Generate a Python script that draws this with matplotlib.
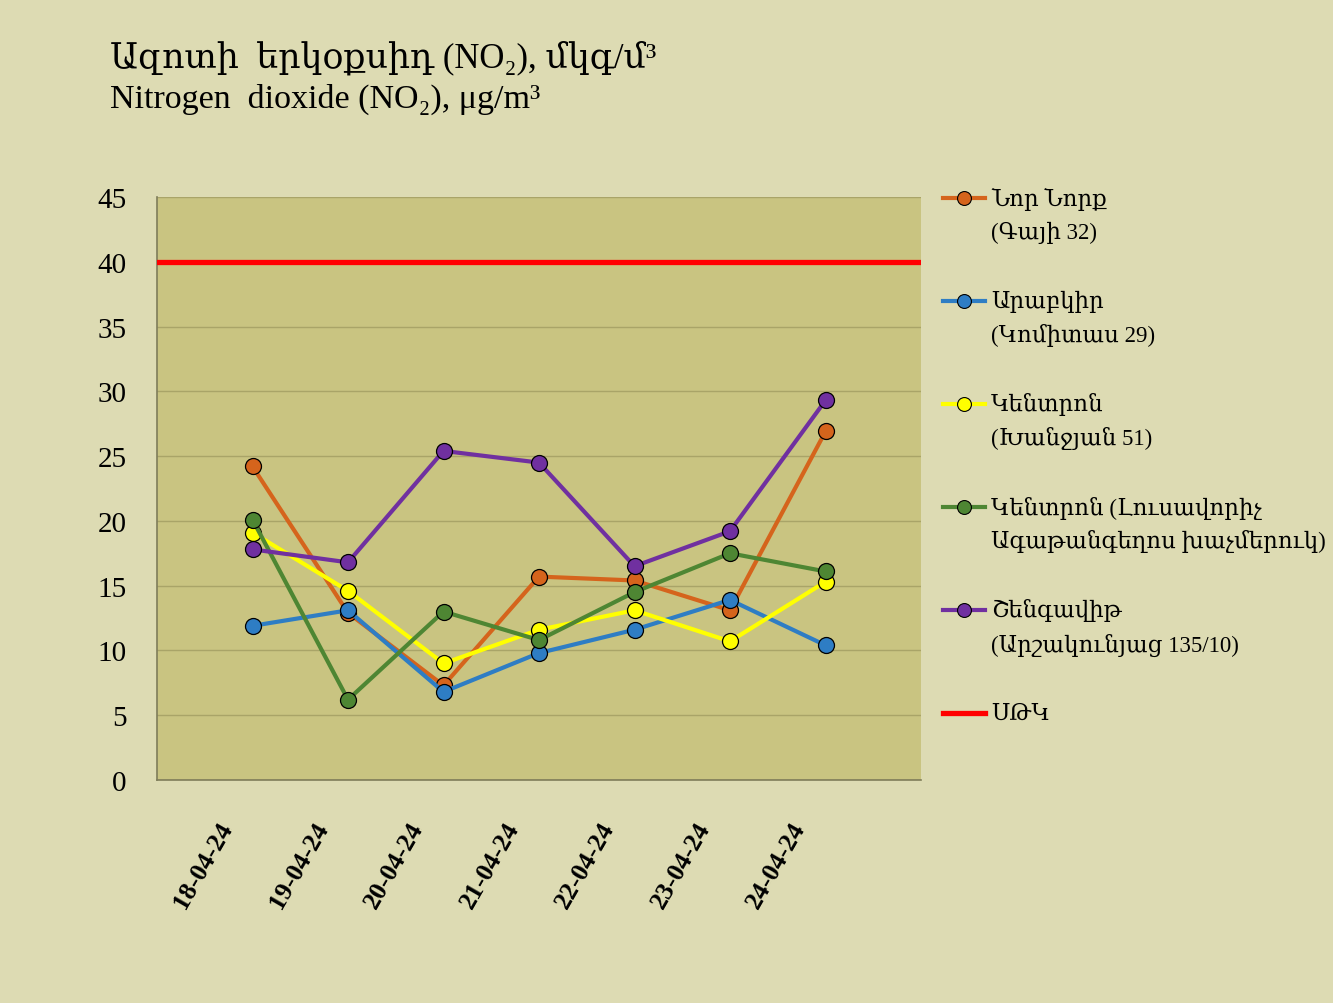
import matplotlib
matplotlib.use("Agg")
import matplotlib.pyplot as plt
from matplotlib.lines import Line2D

plt.rcParams['font.family'] = ['Liberation Serif', 'DejaVu Serif']

dates = ["18-04-24", "19-04-24", "20-04-24", "21-04-24", "22-04-24", "23-04-24", "24-04-24"]
nor_nork = [24.2, 12.9, 7.3, 15.7, 15.4, 13.1, 26.9]
arabkir = [11.9, 13.1, 6.8, 9.8, 11.6, 13.9, 10.4]
kentron_kh = [19.1, 14.6, 9.0, 11.6, 13.1, 10.7, 15.3]
kentron_l = [20.1, 6.2, 13.0, 10.8, 14.5, 17.5, 16.1]
shengavit = [17.8, 16.8, 25.4, 24.5, 16.5, 19.2, 29.3]
limit = 40
yticks = [0, 5, 10, 15, 20, 25, 30, 35, 40, 45]

series = [
    ("Նոր Նորք\n(Գայի 32)", nor_nork, "#D5641C"),
    ("Արաբկիր\n(Կոմիտաս 29)", arabkir, "#2E7DC4"),
    ("Կենտրոն\n(Խանջյան 51)", kentron_kh, "#FFFF00"),
    ("Կենտրոն (Լուսավորիչ\nԱգաթանգեղոս խաչմերուկ)", kentron_l, "#4E8633"),
    ("Շենգավիթ\n(Արշակունյաց 135/10)", shengavit, "#7030A0"),
]
limit_label = "ՍԹԿ"
limit_color = "#FF0000"

W, H = 1333, 1004
fig = plt.figure(figsize=(W/100, H/100), dpi=100)
fig.patch.set_facecolor("#DDDBB3")
ax = fig.add_axes([157/W, 1-781/H, (921-157)/W, (781-198)/H])
ax.set_facecolor("#C9C481")

x = list(range(len(dates)))
ax.axhline(limit, color=limit_color, lw=3.8, zorder=3)
for label, vals, col in series:
    ax.plot(x, vals, color=col, lw=3, marker='o', ms=11.5, mfc=col,
            mec='black', mew=0.9, zorder=4)

ax.set_xlim(-1, len(dates))
ax.set_ylim(0, 45)
ax.set_yticks(yticks)
ax.set_yticklabels([str(t) for t in yticks], fontsize=21)
ax.yaxis.grid(True, color="#A9A468", lw=1)
ax.set_axisbelow(True)
ax.set_xticks(x)
ax.set_xticklabels([])
for xi, d in zip(x, dates):
    ax.text(xi - 0.37, -0.065, d, transform=ax.get_xaxis_transform(), fontsize=18.5,
            fontweight='bold', rotation=60, ha='right', va='top', rotation_mode='anchor')
ax.tick_params(axis='both', length=0)
ax.tick_params(axis='y', pad=22)
for side in ['top', 'right']:
    ax.spines[side].set_visible(False)
for side in ['left', 'bottom']:
    ax.spines[side].set_color("#7F7D5A")
    ax.spines[side].set_linewidth(1.2)

# Title
fig.text(110/W, 1-67/H, "Ազոտի  երկօքսիդ (NO₂), մկգ/մ³", fontsize=25, ha='left', va='baseline')
fig.text(110/W, 1-108/H, "Nitrogen  dioxide (NO₂), μg/m³", fontsize=24.5, ha='left', va='baseline')

# Legend
y0 = 199
step = 103
line2 = 34
for i, (label, vals, col) in enumerate(series):
    ypix = y0 + i*step
    yy = 1 - ypix/H
    fig.add_artist(Line2D([943/W, 985/W], [yy, yy], color=col, lw=3,
                          transform=fig.transFigure))
    fig.add_artist(Line2D([964/W], [yy], color=col, marker='o', ms=10,
                          mfc=col, mec='black', mew=0.8, transform=fig.transFigure))
    first, second = label.split("\n")
    fig.text(991/W, yy, first, fontsize=16.5, ha='left', va='center')
    fig.text(991/W, 1 - (ypix + line2)/H, second, fontsize=16.5, ha='left', va='center')
yy = 1 - (y0 + 5*step)/H
fig.add_artist(Line2D([943/W, 985/W], [yy, yy], color=limit_color, lw=3.8,
                      transform=fig.transFigure))
fig.text(991/W, yy, limit_label, fontsize=16.5, ha='left', va='center')

fig.savefig("out.png", dpi=100, facecolor=fig.get_facecolor())
